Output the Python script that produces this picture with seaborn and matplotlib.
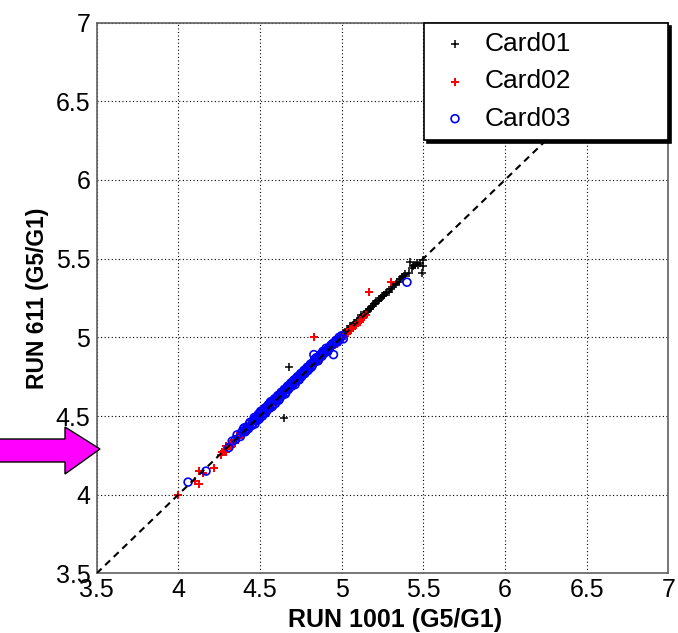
import numpy as np
import pandas as pd
import matplotlib
matplotlib.use("Agg")
import matplotlib.pyplot as plt
from matplotlib.ticker import MultipleLocator
from matplotlib.patches import Polygon
import seaborn as sns

# ---------------- data ----------------
card01_x = [4.42, 4.48, 4.53, 4.58, 4.62, 4.65, 4.68, 4.70, 4.74, 4.78, 4.82, 4.87,
            4.90, 4.93, 4.95, 4.97, 4.99, 5.01, 5.02, 5.04, 5.05, 5.07, 5.08, 5.10,
            5.11, 5.12, 5.14, 5.15, 5.16, 5.18, 5.19, 5.20, 5.21, 5.23, 5.24, 5.26,
            5.27, 5.29, 5.31, 5.33, 5.35, 5.37, 5.39, 5.42, 5.44, 5.46, 5.47, 5.48,
            5.49, 5.50, 5.50,
            5.015, 5.035, 5.055, 5.075, 5.095, 5.125, 5.135, 5.165, 5.175, 5.205,
            5.225, 5.245, 5.255, 5.28, 5.30, 5.32, 5.34, 5.36, 5.38, 5.41, 5.43, 5.45]
card01_y = [4.43, 4.47, 4.54, 4.58, 4.63, 4.49, 4.81, 4.71, 4.75, 4.78, 4.83, 4.90,
            4.91, 4.93, 4.97, 4.98, 5.00, 5.03, 5.03, 5.05, 5.07, 5.08, 5.09, 5.11,
            5.12, 5.14, 5.15, 5.16, 5.17, 5.19, 5.20, 5.21, 5.23, 5.24, 5.25, 5.27,
            5.28, 5.29, 5.32, 5.34, 5.35, 5.38, 5.40, 5.48, 5.45, 5.47, 5.46, 5.47,
            5.41, 5.49, 5.45,
            5.02, 5.04, 5.06, 5.09, 5.10, 5.13, 5.14, 5.18, 5.18, 5.22,
            5.23, 5.26, 5.26, 5.29, 5.31, 5.33, 5.35, 5.37, 5.39, 5.41, 5.44, 5.46]

card02_x = [4.00, 4.10, 4.125, 4.125, 4.15, 4.22, 4.26, 4.27, 4.28, 4.29, 4.30, 4.31,
            4.33, 4.34, 4.35, 4.37, 4.38, 4.40, 4.42, 4.44, 4.46, 4.49, 4.52, 4.55,
            4.58, 4.62, 4.66, 4.70, 4.74, 4.78, 4.83, 4.85, 4.90, 4.94, 4.97, 5.00,
            5.02, 5.04, 5.07, 5.08, 5.10, 5.12, 5.14, 5.15, 5.17, 5.30,
            4.285, 4.295, 4.315, 4.325, 4.345, 4.36, 4.39, 4.41, 4.43, 4.45,
            5.01, 5.03, 5.05, 5.09, 5.11, 5.13]
card02_y = [4.00, 4.09, 4.07, 4.15, 4.14, 4.17, 4.25, 4.27, 4.28, 4.27, 4.30, 4.31,
            4.32, 4.35, 4.33, 4.36, 4.38, 4.39, 4.41, 4.43, 4.45, 4.48, 4.51, 4.54,
            4.57, 4.60, 4.65, 4.69, 4.73, 4.77, 5.00, 4.84, 4.89, 4.93, 4.96, 4.99,
            5.01, 5.03, 5.06, 5.07, 5.09, 5.11, 5.13, 5.14, 5.29, 5.35,
            4.29, 4.31, 4.32, 4.30, 4.34, 4.37, 4.38, 4.42, 4.42, 4.46,
            5.00, 5.02, 5.05, 5.08, 5.10, 5.12]

card03_x = [4.06, 4.17, 4.31, 4.33, 4.35, 4.36, 4.38, 4.39, 4.40, 4.41, 4.42, 4.43,
            4.44, 4.45, 4.46, 4.47, 4.47, 4.48, 4.49, 4.50, 4.50, 4.51, 4.52, 4.53,
            4.54, 4.55, 4.56, 4.56, 4.57, 4.58, 4.59, 4.60, 4.61, 4.62, 4.63, 4.64,
            4.65, 4.66, 4.67, 4.68, 4.69, 4.70, 4.71, 4.72, 4.73, 4.74, 4.75, 4.76,
            4.77, 4.78, 4.79, 4.80, 4.81, 4.82, 4.83, 4.84, 4.85, 4.86, 4.87, 4.88,
            4.89, 4.90, 4.91, 4.92, 4.93, 4.95, 4.95, 4.96, 4.97, 4.99, 5.00, 5.01,
            5.40,
            4.405, 4.415, 4.435, 4.455, 4.465, 4.475, 4.485, 4.495, 4.505, 4.515,
            4.525, 4.535, 4.545, 4.555, 4.565, 4.575, 4.585, 4.595, 4.605, 4.615,
            4.625, 4.635, 4.645, 4.655, 4.665, 4.675, 4.685, 4.695, 4.705, 4.715,
            4.725, 4.735, 4.745, 4.755, 4.765, 4.775, 4.785, 4.795, 4.805, 4.815,
            4.825, 4.835, 4.845, 4.855, 4.865, 4.875, 4.885, 4.895, 4.905, 4.915,
            4.925, 4.935, 4.945, 4.965, 4.975, 4.985]
card03_y = [4.08, 4.15, 4.30, 4.34, 4.35, 4.38, 4.37, 4.40, 4.42, 4.40, 4.43, 4.42,
            4.46, 4.44, 4.47, 4.48, 4.45, 4.49, 4.51, 4.49, 4.52, 4.53, 4.51, 4.55,
            4.53, 4.57, 4.55, 4.58, 4.59, 4.57, 4.61, 4.60, 4.63, 4.61, 4.65, 4.64,
            4.67, 4.65, 4.69, 4.68, 4.71, 4.70, 4.73, 4.72, 4.75, 4.73, 4.77, 4.76,
            4.79, 4.78, 4.81, 4.80, 4.83, 4.82, 4.89, 4.85, 4.87, 4.86, 4.89, 4.88,
            4.90, 4.91, 4.92, 4.93, 4.94, 4.89, 4.96, 4.97, 4.98, 4.99, 5.01, 4.99,
            5.35,
            4.425, 4.41, 4.45, 4.45, 4.49, 4.47, 4.50, 4.48, 4.53, 4.50,
            4.54, 4.52, 4.56, 4.55, 4.59, 4.56, 4.60, 4.58, 4.62, 4.60,
            4.64, 4.63, 4.66, 4.64, 4.68, 4.67, 4.70, 4.69, 4.72, 4.70,
            4.74, 4.73, 4.76, 4.75, 4.78, 4.77, 4.80, 4.79, 4.82, 4.81,
            4.84, 4.86, 4.87, 4.85, 4.88, 4.89, 4.91, 4.90, 4.93, 4.91,
            4.93, 4.95, 4.96, 4.98, 4.97, 5.00]

series_labels = ["Card01", "Card02", "Card03"]
axis_range = [3.5, 7.0]
x_title = "RUN 1001 (G5/G1)"
y_title = "RUN 611 (G5/G1)"

# ---------------- figure ----------------
sns.set_style("white")
plt.rcParams["font.family"] = ["Liberation Sans", "DejaVu Sans"]
plt.rcParams["text.color"] = "black"
plt.rcParams["axes.labelcolor"] = "black"
plt.rcParams["xtick.color"] = "black"
plt.rcParams["ytick.color"] = "black"

W, H = 678, 633
fig = plt.figure(figsize=(W / 100, H / 100), dpi=100)
ax = fig.add_axes([96.6 / W, 1 - 573.4 / H, (668.3 - 96.6) / W, (573.4 - 22.5) / H])

ax.set_xlim(axis_range)
ax.set_ylim(axis_range)

ax.grid(True, which="major", color="black", linestyle=(0, (1, 2.2)), linewidth=0.8)
ax.set_axisbelow(True)

sns.scatterplot(x=card01_x, y=card01_y, marker="+", color="black", s=34,
                linewidth=1.1, label=series_labels[0], ax=ax, zorder=3)
sns.scatterplot(x=card02_x, y=card02_y, marker="P", color="#ff0000", s=30,
                linewidth=0, label=series_labels[1], ax=ax, zorder=4)
sns.scatterplot(x=card03_x, y=card03_y, marker="o", facecolor="none",
                edgecolor="#0000ff", s=32, linewidth=1.2,
                label=series_labels[2], ax=ax, zorder=5)

# reference diagonal y = x
ax.axline((axis_range[0], axis_range[0]), slope=1, color="black",
          linestyle=(0, (3.3, 2.4)), linewidth=1.5, zorder=6)

# ticks
ax.xaxis.set_major_locator(MultipleLocator(0.5))
ax.yaxis.set_major_locator(MultipleLocator(0.5))
ax.xaxis.set_minor_locator(MultipleLocator(0.1))
ax.yaxis.set_minor_locator(MultipleLocator(0.1))
ax.tick_params(which="both", direction="in", top=False, right=False,
               color="#303030", width=1.0, labelcolor="black")
ax.tick_params(which="major", length=12, labelsize=18)
ax.tick_params(which="minor", length=6)
ax.tick_params(axis="x", which="major", pad=3)
ax.tick_params(axis="y", which="major", pad=4.5)
ax.set_xticklabels([f"{v:g}" for v in ax.get_xticks()])
ax.set_yticklabels([f"{v:g}" for v in ax.get_yticks()])

for sp in ax.spines.values():
    sp.set_color("#606060")
    sp.set_linewidth(1.2)

ax.set_xlabel(x_title, fontsize=18, fontweight="bold", color="black")
ax.set_ylabel(y_title, fontsize=16.5, fontweight="bold", color="black")
ax.xaxis.set_label_coords(0.522, -0.062)
ax.yaxis.label.set_verticalalignment("center")
ax.yaxis.set_label_coords(-0.104, 0.5)

# legend
leg = ax.legend(loc="upper left", bbox_to_anchor=(424 / W, 1 - 137 / H, 244 / W, 114 / H),
                bbox_transform=fig.transFigure, mode="expand", borderaxespad=0,
                fontsize=19, labelspacing=0.5, borderpad=0.35, handlelength=1.65,
                handletextpad=0.31, scatterpoints=1, fancybox=False,
                shadow={"color": "black", "alpha": 1.0}, framealpha=1,
                edgecolor="black")
leg.get_frame().set_linewidth(1.2)
leg.set_zorder(10)
for t in leg.get_texts():
    t.set_color("black")

# magenta arrow annotation (figure pixels)
arrow_px = [(-3, 439), (65, 439), (65, 427), (100, 449), (65, 474), (65, 462), (-3, 462)]
arrow = Polygon([(x / W, 1 - y / H) for x, y in arrow_px], closed=True,
                transform=fig.transFigure, facecolor="#ff00ff", edgecolor="black",
                linewidth=1.0, zorder=20)
fig.patches.append(arrow)

fig.savefig("out.png", dpi=100)
